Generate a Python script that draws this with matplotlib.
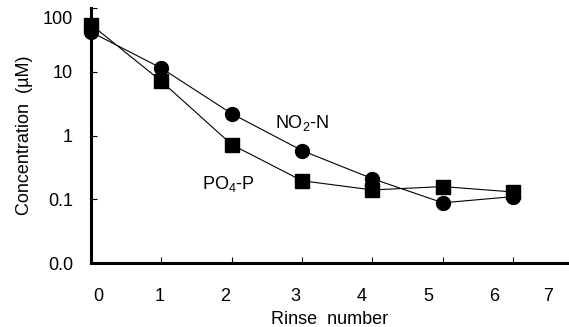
import numpy as np
import matplotlib.pyplot as plt
import matplotlib.transforms as mtransforms

plt.rcParams['font.family'] = ['Liberation Sans', 'DejaVu Sans']
plt.rcParams['mathtext.fontset'] = 'custom'
plt.rcParams['mathtext.rm'] = 'Liberation Sans'
plt.rcParams['mathtext.it'] = 'Liberation Sans'

rinse = [0, 1, 2, 3, 4, 5, 6]
no2_n = [42, 11.4, 2.2, 0.58, 0.21, 0.088, 0.11]
po4_p = [55, 7.1, 0.72, 0.195, 0.14, 0.158, 0.13]

xtick_labels = ['0', '1', '2', '3', '4', '5', '6', '7']
xtick_label_pos = [0.11, 0.98, 1.91, 2.90, 3.85, 4.79, 5.73, 6.50]
ytick_vals = [0.01, 0.1, 1, 10, 100]
ytick_labels = ['0.0', '0.1', '1', '10', '100']

fig = plt.figure(figsize=(5.69, 3.27), dpi=100)
ax = fig.add_axes([91/569, 1-263/327, (568-91)/569, (263-8)/327])

ax.plot(rinse, no2_n, color='black', lw=0.8, marker='o', ms=10, clip_on=False, zorder=3)
ax.plot(rinse, po4_p, color='black', lw=0.8, marker='s', ms=9.5, clip_on=False, zorder=3)

ax.set_yscale('log')
ax.set_ylim(0.01, 100)
ax.set_xlim(0, 6.78)

ax.set_yticks(ytick_vals, ytick_labels)
ax.yaxis.set_minor_locator(plt.NullLocator())
ax.tick_params(axis='y', direction='in', length=4, width=0.8, labelsize=13, pad=13)
# top label sits a little below the axis end in the original
top = ax.get_yticklabels()[-1]
top.set_transform(top.get_transform() + mtransforms.ScaledTranslation(0, -9/100, fig.dpi_scale_trans))

# tick marks at the rinse numbers, labels placed separately as in the original
ax.set_xticks(rinse[1:], minor=True)
ax.set_xticks(xtick_label_pos, xtick_labels)
ax.tick_params(axis='x', which='major', length=0, labelsize=13, pad=18)
ax.tick_params(axis='x', which='minor', direction='in', length=4, width=0.8)

for s in ['top', 'right']:
    ax.spines[s].set_visible(False)
for s in ['left', 'bottom']:
    ax.spines[s].set_linewidth(2.2)

ax.set_ylabel('Concentration  (\u00b5M)', fontsize=13, labelpad=7)
ax.set_xlabel('Rinse  number', fontsize=13, labelpad=4)

ax.text(3.0, 1.55, 'NO$_2$-N', fontsize=13, ha='center', va='center')
ax.text(1.95, 0.175, 'PO$_4$-P', fontsize=13, ha='center', va='center')

fig.savefig('out.png', dpi=100)
